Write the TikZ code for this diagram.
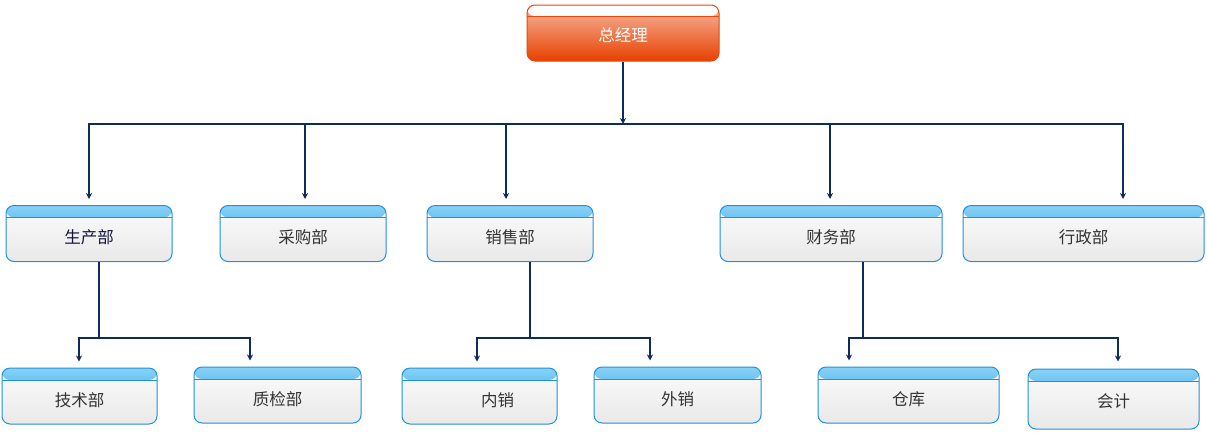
\documentclass[tikz,border=0pt]{standalone}
\usepackage{fontspec}
\newfontfamily\cjk{Noto Sans CJK SC}
\usetikzlibrary{arrows.meta}
\definecolor{lnc}{HTML}{0D2B5E}
\definecolor{bbord}{HTML}{2290DA}
\definecolor{htop}{HTML}{8AD3F8}
\definecolor{hmid}{HTML}{4CB2EE}
\definecolor{hbot}{HTML}{1590DE}
\definecolor{btop}{HTML}{FBFBFB}
\definecolor{bbot}{HTML}{E9E9E9}
\definecolor{rbord}{HTML}{E8480E}
\definecolor{rtop}{HTML}{F6B8A0}
\definecolor{rbot}{HTML}{E84000}
\definecolor{rhtop}{HTML}{FFFFFF}
\definecolor{rhbot}{HTML}{EAEAEA}
\definecolor{txt}{HTML}{333333}
\definecolor{txtd}{HTML}{15163A}
\newcommand{\lbl}[2][10pt]{\raisebox{-#1}[0pt][0pt]{#2}}
\begin{document}
\begin{tikzpicture}[x=1pt,y=-1pt,
  box/.style={rounded corners=8pt, line width=1pt, font=\cjk\fontsize{16.5}{18}\selectfont, inner sep=0pt, text=txt},
  bluebox/.style={box, draw=bbord, top color=btop, bottom color=bbot, minimum height=56pt,
    path picture={
      \shade[top color=htop,middle color=hmid,bottom color=hbot] ([yshift=1pt]path picture bounding box.north west) rectangle ([yshift=-12pt]path picture bounding box.north east);
      \draw[bbord,line width=0.8pt] ([yshift=-12pt]path picture bounding box.north west) -- ([yshift=-12pt]path picture bounding box.north east);}},
  redbox/.style={box, draw=rbord, top color=rtop, bottom color=rbot, minimum height=56pt, text=white,
    path picture={
      \shade[top color=rhtop,bottom color=rhbot] ([yshift=1pt]path picture bounding box.north west) rectangle ([yshift=-11pt]path picture bounding box.north east);
      \draw[rbord,line width=0.8pt] ([yshift=-11pt]path picture bounding box.north west) -- ([yshift=-11pt]path picture bounding box.north east);}},
  ln/.style={draw=lnc, line width=1.1pt},
  arr/.style={ln, -{Stealth[length=6pt,width=6pt]}}
]
\useasboundingbox (0,0) rectangle (1207,432);

% top
\node[redbox, minimum width=192pt] (gm) at (623,33) {\lbl[8pt]{总经理}};

% row 2
\node[bluebox, minimum width=166pt, text=txtd] (sc) at (89,233.5) {\lbl{生产部}};
\node[bluebox, minimum width=166pt] (cg) at (303,233.5) {\lbl{采购部}};
\node[bluebox, minimum width=166pt] (xs) at (510,233.5) {\lbl{销售部}};
\node[bluebox, minimum width=222pt] (cw) at (831,233.5) {\lbl{财务部}};
\node[bluebox, minimum width=241pt] (xz) at (1083.5,233.5) {\lbl{行政部}};

% row 3
\node[bluebox, minimum width=155pt] (js) at (79.5,396) {\lbl{技术部}};
\node[bluebox, minimum width=167pt] (zj) at (277.5,395) {\lbl{质检部}};
\node[bluebox, minimum width=155pt] (nx) at (479.5,396) {\lbl{\hspace*{36pt}内销}};
\node[bluebox, minimum width=167pt] (wx) at (677.5,395) {\lbl{外销}};
\node[bluebox, minimum width=181pt] (ck) at (908.5,395) {\lbl{仓库}};
\node[bluebox, minimum width=171pt, minimum height=60pt] (kj) at (1113.5,399) {\lbl[8pt]{会计}};

% connectors level 1
\coordinate (bus) at (623,124);
\draw[arr] (gm) -- (bus);
\draw[arr, shorten >=6pt] (bus) -| (sc.north);
\draw[arr, shorten >=6pt] (bus) -| ([xshift=2pt]cg.north);
\draw[arr, shorten >=6pt] (bus) -| ([xshift=-4pt]xs.north);
\draw[arr, shorten >=6pt] (bus) -| ([xshift=-1pt]cw.north);
\draw[arr, shorten >=6pt] (bus) -| ([xshift=39.5pt]xz.north);

% connectors level 2
\coordinate (j1) at (99,338);
\coordinate (j2) at (530,338);
\coordinate (j3) at (863,338);
\draw[ln] ([xshift=10pt]sc.south) -- (j1);
\draw[arr, shorten >=6pt] (j1) -| ([xshift=-0.5pt]js.north);
\draw[arr, shorten >=6pt] (j1) -| ([xshift=-27.5pt]zj.north);
\draw[ln] ([xshift=20pt]xs.south) -- (j2);
\draw[arr, shorten >=6pt] (j2) -| ([xshift=-2.5pt]nx.north);
\draw[arr, shorten >=6pt] (j2) -| ([xshift=-27.5pt]wx.north);
\draw[ln] ([xshift=32pt]cw.south) -- (j3);
\draw[arr, shorten >=6pt] (j3) -| ([xshift=-59.5pt]ck.north);
\draw[arr, shorten >=7pt] (j3) -| ([xshift=4.5pt]kj.north);
\end{tikzpicture}
\end{document}
